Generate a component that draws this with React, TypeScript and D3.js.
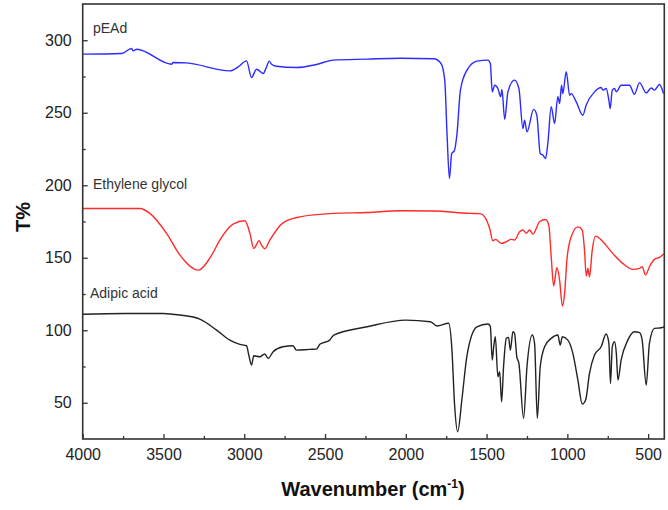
import React, { useEffect, useRef } from 'react';
import * as d3 from 'd3';

// FTIR spectra, [wavenumber, T%]
const pEAd: [number, number][] = [
  [4000, 290.4], [3759, 290.9], [3697, 294.3], [3687, 292.7], [3666, 293.8], [3450, 283.5],
  [3440, 284.7], [3357, 284.4], [3089, 278.9], [3038, 281.6], [2986, 285.8], [2955, 274.3],
  [2924, 280], [2883, 277.1], [2862, 281.6], [2846, 285.6], [2831, 283.5], [2800, 282.1],
  [2677, 281.2], [2553, 283.3], [2450, 286.3], [2240, 287], [2033, 287.6], [1827, 287.2],
  [1782, 284], [1759, 272.5], [1745, 235.7], [1730, 204.7], [1716, 221.9], [1700, 223.7],
  [1683, 235.7], [1662, 265.6], [1621, 279.4], [1560, 285.6], [1492, 286.3], [1477, 284],
  [1465, 264.4], [1450, 269], [1430, 266.7], [1413, 261], [1405, 266], [1388, 245.4],
  [1368, 264.4], [1327, 272.5], [1300, 266.7], [1275, 239.1], [1265, 244.9], [1250, 236.8],
  [1209, 252.3], [1189, 248.3], [1168, 221.9], [1152, 220.8], [1135, 218.5], [1121, 228.8],
  [1100, 254.1], [1079, 242.6], [1059, 261], [1048, 256.4], [1036, 269], [1028, 263.2],
  [1007, 278.3], [986, 262.1], [976, 263.2], [945, 257.5], [904, 248.3], [884, 255.2],
  [832, 264.4], [791, 267.4], [780, 265.6], [760, 266.7], [743, 258.6], [735, 252.8],
  [722, 265.6], [708, 266.7], [697, 264.4], [667, 269], [615, 269], [585, 262.8],
  [553, 270.8], [512, 263.6], [481, 267.1], [461, 265.6], [430, 269.5], [405, 263.2],
];

const ethyleneGlycol: [number, number][] = [
  [4000, 184], [3646, 184], [3584, 180.6], [3481, 166.8], [3398, 151.8], [3285, 141.5],
  [3202, 151.8], [3151, 162.2], [3069, 173.2], [2996, 175.5], [2965, 166.8], [2941, 156.4],
  [2908, 161.7], [2893, 158.7], [2873, 156.2], [2842, 162.2], [2760, 174.1], [2656, 178.2],
  [2450, 180.6], [2240, 181.2], [2033, 182.4], [1827, 182.2], [1604, 180.6], [1539, 180.4],
  [1512, 178.2], [1481, 170.2], [1461, 161.7], [1444, 162.7], [1409, 159.9], [1378, 161],
  [1347, 162.7], [1327, 162.2], [1296, 167.9], [1275, 169.1], [1254, 166.8], [1234, 169.1],
  [1213, 166.3], [1172, 174.8], [1135, 176.4], [1115, 172.5], [1100, 150.7], [1085, 130.5],
  [1065, 143.1], [1048, 134.6], [1031, 116.7], [1017, 125.4], [1003, 148.4], [976, 164.5],
  [935, 171.3], [908, 169.1], [894, 155.3], [883, 137.4], [873, 142.7], [863, 136.9],
  [846, 155.3], [826, 164.9], [780, 161], [719, 153], [657, 146.1], [595, 142],
  [553, 142.7], [537, 143.8], [516, 138.1], [492, 143.8], [461, 148.9], [430, 150.3],
  [399, 153],
];

const adipicAcid: [number, number][] = [
  [4000, 111], [3738, 111.6], [3502, 111.6], [3398, 110.5], [3275, 107.7], [3171, 100.1],
  [3089, 93.2], [3027, 90.3], [2986, 89.3], [2972, 82.9], [2955, 76], [2941, 82.4],
  [2904, 81.7], [2873, 83.6], [2852, 80.6], [2821, 85.2], [2760, 88.6], [2698, 89.3],
  [2677, 86.3], [2594, 86.8], [2553, 87], [2532, 90.3], [2471, 93.2], [2446, 96.7],
  [2240, 102.4], [2000, 107], [1848, 105.9], [1807, 102.9], [1735, 104.8], [1715, 87.5],
  [1698, 48.4], [1679, 30], [1652, 53.1], [1621, 82.9], [1560, 102.4], [1492, 104.3],
  [1477, 102.9], [1465, 79.5], [1456, 88.6], [1446, 95.5], [1430, 67.9], [1419, 71.4],
  [1407, 50.7], [1395, 74.8], [1378, 94.4], [1364, 95.1], [1353, 86.3], [1337, 99],
  [1327, 97.9], [1313, 81.7], [1300, 77.2], [1271, 39.3], [1250, 74.8], [1217, 96.7],
  [1203, 91], [1186, 39.3], [1168, 74.8], [1141, 88.6], [1100, 94.4], [1059, 96.7],
  [1044, 89.8], [1031, 95.5], [997, 93.2], [966, 84.1], [935, 65.7], [908, 49.1],
  [887, 51.9], [863, 70.3], [832, 82.9], [791, 88.6], [760, 97.4], [743, 91],
  [733, 63.3], [722, 88.6], [708, 92.1], [697, 84.1], [687, 65.7], [667, 79.5],
  [626, 93.2], [585, 99], [553, 98.3], [537, 93.2], [512, 62.2], [492, 91],
  [461, 101.3], [420, 101.7], [399, 102.4],
];

const series = [
  { name: 'pEAd', data: pEAd, color: '#2b2bff', labelAt: [93, 33] },
  { name: 'Ethylene glycol', data: ethyleneGlycol, color: '#ff2b2b', labelAt: [93, 189] },
  { name: 'Adipic acid', data: adipicAcid, color: '#222222', labelAt: [90, 298] },
];

const xMajor = [4000, 3500, 3000, 2500, 2000, 1500, 1000, 500];
const xMinor = [3750, 3250, 2750, 2250, 1750, 1250, 750];
const yMajor = [50, 100, 150, 200, 250, 300];
const yMinor = [75, 125, 175, 225, 275];

const W = 668;
const H = 510;
const FONT = '"Liberation Sans", Arial, sans-serif';

export default function App() {
  const svgRef = useRef<SVGSVGElement | null>(null);

  useEffect(() => {
    const svg = d3.select(svgRef.current);
    svg.selectAll('*').remove();

    const left = 82.7, right = 664.3, top = 4, bottom = 439;

    const x = d3.scaleLinear().domain([4000, 400]).range([left, right]);
    const y = d3.scaleLinear().domain([25, 325]).range([bottom, top]);

    const line = d3.line<[number, number]>()
      .x(d => x(d[0]))
      .y(d => y(d[1]))
      .curve(d3.curveMonotoneX);

    // spectra
    series.forEach(s => {
      svg.append('path')
        .datum(s.data)
        .attr('d', line)
        .attr('fill', 'none')
        .attr('stroke', s.color)
        .attr('stroke-width', 1.4)
        .attr('stroke-linejoin', 'round');

      svg.append('text')
        .attr('x', s.labelAt[0])
        .attr('y', s.labelAt[1])
        .attr('font-family', FONT)
        .attr('font-size', 14)
        .attr('fill', '#333')
        .text(s.name);
    });

    // frame
    svg.append('rect')
      .attr('x', left)
      .attr('y', top)
      .attr('width', right - left)
      .attr('height', bottom - top)
      .attr('fill', 'none')
      .attr('stroke', '#333')
      .attr('stroke-width', 1.6);

    // x axis ticks (inward)
    const xAxis = d3.axisBottom(x).tickValues(xMajor).tickSizeInner(-5).tickSizeOuter(0).tickPadding(10)
      .tickFormat(d3.format('d'));
    const gx = svg.append('g').attr('transform', `translate(0,${bottom})`).call(xAxis);
    gx.select('.domain').remove();
    gx.selectAll('line').attr('stroke', '#333').attr('stroke-width', 1.3);
    gx.selectAll('text').attr('font-family', FONT).attr('font-size', 16).attr('fill', '#222');

    const gxm = svg.append('g').attr('transform', `translate(0,${bottom})`)
      .call(d3.axisBottom(x).tickValues(xMinor).tickSizeInner(-3).tickSizeOuter(0).tickFormat(() => ''));
    gxm.select('.domain').remove();
    gxm.selectAll('line').attr('stroke', '#333').attr('stroke-width', 1.3);

    // y axis ticks (inward)
    const yAxis = d3.axisLeft(y).tickValues(yMajor).tickSizeInner(-5).tickSizeOuter(0).tickPadding(11)
      .tickFormat(d3.format('d'));
    const gy = svg.append('g').attr('transform', `translate(${left},0)`).call(yAxis);
    gy.select('.domain').remove();
    gy.selectAll('line').attr('stroke', '#333').attr('stroke-width', 1.3);
    gy.selectAll('text').attr('font-family', FONT).attr('font-size', 16).attr('fill', '#222');

    const gym = svg.append('g').attr('transform', `translate(${left},0)`)
      .call(d3.axisLeft(y).tickValues(yMinor).tickSizeInner(-3).tickSizeOuter(0).tickFormat(() => ''));
    gym.select('.domain').remove();
    gym.selectAll('line').attr('stroke', '#333').attr('stroke-width', 1.3);

    // axis titles
    const xt = svg.append('text')
      .attr('x', 373)
      .attr('y', 496)
      .attr('text-anchor', 'middle')
      .attr('font-family', FONT)
      .attr('font-size', 20)
      .attr('font-weight', 'bold')
      .attr('fill', '#111');
    xt.append('tspan').text('Wavenumber (cm');
    xt.append('tspan').attr('font-size', 12).attr('dy', -8).text('-1');
    xt.append('tspan').attr('dy', 8).text(')');

    svg.append('text')
      .attr('transform', 'translate(30,217) rotate(-90)')
      .attr('text-anchor', 'middle')
      .attr('font-family', FONT)
      .attr('font-size', 20)
      .attr('font-weight', 'bold')
      .attr('fill', '#111')
      .text('T%');
  }, []);

  return (
    <svg
      ref={svgRef}
      width={W}
      height={H}
      style={{ position: 'absolute', left: 0, top: 0, background: '#fff' }}
    />
  );
}
